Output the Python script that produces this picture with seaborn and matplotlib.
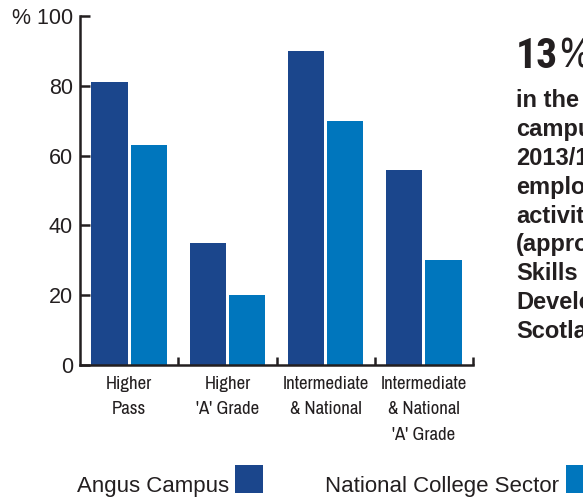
import matplotlib
matplotlib.use("Agg")
import matplotlib.pyplot as plt
from matplotlib.patches import Rectangle
import seaborn as sns
import pandas as pd

# Data
categories = ["Higher\nPass", "Higher\n'A' Grade", "Intermediate\n& National", "Intermediate\n& National\n'A' Grade"]
angus_campus = [81, 35, 90, 56]
national_sector = [63, 20, 70, 30]
series_names = ["Angus Campus", "National College Sector"]
y_ticks = [0, 20, 40, 60, 80, 100]
y_tick_labels = ["0", "20", "40", "60", "80", "% 100"]

headline_number = "13"
headline_unit = "%"
side_lines = ["in the", "campus", "2013/14", "employment", "activity", "(approx.", "Skills",
              "Development", "Scotland"]

DARK_BLUE = "#1b468c"
LIGHT_BLUE = "#0076bd"
INK = "#231f20"
NARROW = ["Archivo Narrow", "DejaVu Sans"]
NARROW_BOLD = ["Roboto Condensed", "Archivo Narrow", "DejaVu Sans"]

df = pd.DataFrame({
    "category": categories * 2,
    "value": angus_campus + national_sector,
    "series": [series_names[0]] * len(categories) + [series_names[1]] * len(categories),
})

sns.set_theme(style="white")
plt.rcParams["font.family"] = ["Liberation Sans", "DejaVu Sans"]

fig = plt.figure(figsize=(5.83, 4.98), dpi=100)
ax = fig.add_axes([80 / 583, 1 - 365 / 498, (473 - 80) / 583, (365 - 16) / 498])

sns.barplot(data=df, x="category", y="value", hue="series", order=categories,
            hue_order=series_names, palette=[DARK_BLUE, LIGHT_BLUE],
            width=0.8, gap=0.08, saturation=1, legend=False, ax=ax,
            linewidth=0)

ax.set_xlim(-0.5, len(categories) - 0.5)
ax.set_ylim(0, 100)
ax.set_xlabel("")
ax.set_ylabel("")

for side in ["top", "right"]:
    ax.spines[side].set_visible(False)
for side in ["left", "bottom"]:
    ax.spines[side].set_color(INK)
    ax.spines[side].set_linewidth(1.8)

ax.set_yticks(y_ticks)
ax.set_yticklabels(y_tick_labels)
ax.tick_params(axis="y", direction="in", length=7, width=1.8, color=INK,
               labelsize=15.5, labelcolor=INK, pad=5, left=True)

ax.set_xticks(range(len(categories)))
ax.set_xticklabels(categories, fontfamily=NARROW, fontsize=13.5,
                   color=INK, linespacing=1.72, va="top")
ax.tick_params(axis="x", which="major", length=0, pad=8)
ax.set_xticks([i + 0.5 for i in range(len(categories))], minor=True)
ax.tick_params(axis="x", which="minor", direction="in", length=6, width=1.8,
               color=INK, bottom=True)

# Headline figure and description on the right
num = fig.text(516 / 583, 1 - 68 / 498, headline_number, fontfamily=NARROW_BOLD,
               fontweight="bold", fontsize=30, color=INK, ha="left", va="baseline")
fig.canvas.draw()
bb = num.get_window_extent()
fig.text(bb.x1 / fig.bbox.width + 1 / 583, 1 - 68 / 498, headline_unit, fontfamily=NARROW,
         fontweight="normal", fontsize=30, color=INK, ha="left", va="baseline")
for i, line in enumerate(side_lines):
    fig.text(516 / 583, 1 - (107 + 28.9 * i) / 498, line, fontweight="bold",
             fontsize=17, color=INK, ha="left", va="baseline")

# Legend row
legend_items = [(77, 235), (325, 566)]
for name, colour, (tx, sx) in zip(series_names, [DARK_BLUE, LIGHT_BLUE], legend_items):
    fig.text(tx / 583, 1 - 492 / 498, name, fontsize=16, color=INK,
             ha="left", va="baseline")
    fig.patches.append(Rectangle((sx / 583, 1 - 493 / 498), 28 / 583, 28 / 498,
                                 transform=fig.transFigure, facecolor=colour,
                                 edgecolor="none"))

fig.savefig("out.png", dpi=100)
